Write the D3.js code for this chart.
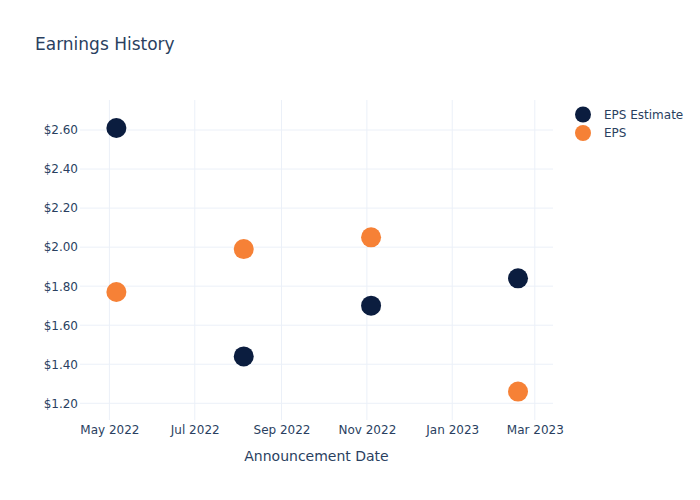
<!DOCTYPE html>
<html>
<head>
<meta charset="utf-8">
<script src="https://cdn.jsdelivr.net/npm/d3@7"></script>
<style>
  body { margin: 0; background: #fff; }
  svg { font-family: "DejaVu Sans", sans-serif; }
</style>
</head>
<body>
<svg id="chart" width="700" height="500"></svg>
<script>
const dates = ["2022-05-06", "2022-08-05", "2022-11-04", "2023-02-17"];
const epsEstimate = [2.61, 1.44, 1.70, 1.84];
const eps = [1.77, 1.99, 2.05, 1.26];
const yTicks = [1.2, 1.4, 1.6, 1.8, 2.0, 2.2, 2.4, 2.6];
const xTicks = ["2022-05-01", "2022-07-01", "2022-09-01", "2022-11-01", "2023-01-01", "2023-03-01"];
const seriesNames = ["EPS Estimate", "EPS"];
const seriesColors = ["#0b1d3f", "#f68136"];

const parse = d3.timeParse("%Y-%m-%d");
const svg = d3.select("#chart");
const W = 700, H = 500;
const m = { left: 80, right: 553, top: 100, bottom: 420 };
const textColor = "#2a3f5f";
const gridColor = "#ebf0f8";

const x = d3.scaleTime()
  .domain([parse("2022-04-10"), parse("2023-03-14")])
  .range([m.left, m.right]);
const y = d3.scaleLinear()
  .domain([1.1144, 2.7537])
  .range([m.bottom, m.top]);

svg.append("rect").attr("width", W).attr("height", H).attr("fill", "#fff");

// grid
const g = svg.append("g");
g.selectAll(".vg").data(xTicks).enter().append("line")
  .attr("x1", d => x(parse(d))).attr("x2", d => x(parse(d)))
  .attr("y1", m.top).attr("y2", m.bottom)
  .attr("stroke", gridColor).attr("stroke-width", 1);
g.selectAll(".hg").data(yTicks).enter().append("line")
  .attr("x1", m.left).attr("x2", m.right)
  .attr("y1", d => y(d)).attr("y2", d => y(d))
  .attr("stroke", gridColor).attr("stroke-width", 1);

// axes
const xAxis = d3.axisBottom(x)
  .tickValues(xTicks.map(parse))
  .tickFormat(d3.timeFormat("%b %Y"))
  .tickSize(0).tickPadding(5);
const xg = svg.append("g").attr("transform", `translate(0,${m.bottom})`).call(xAxis);
xg.select(".domain").remove();
xg.selectAll("text").attr("fill", textColor).style("font-size", "12px")
  .style("font-family", "DejaVu Sans, sans-serif");

const yAxis = d3.axisLeft(y)
  .tickValues(yTicks)
  .tickFormat(d => "$" + d3.format(".2f")(d))
  .tickSize(0).tickPadding(2);
const yg = svg.append("g").attr("transform", `translate(${m.left},0)`).call(yAxis);
yg.select(".domain").remove();
yg.selectAll("text").attr("fill", textColor).style("font-size", "12px")
  .style("font-family", "DejaVu Sans, sans-serif");

// points
const seriesData = [epsEstimate, eps];
seriesData.forEach((vals, i) => {
  svg.append("g").selectAll("circle").data(vals).enter().append("circle")
    .attr("cx", (d, j) => x(parse(dates[j])))
    .attr("cy", d => y(d))
    .attr("r", 10)
    .attr("fill", seriesColors[i]);
});

// title
svg.append("text").attr("x", 35).attr("y", 50)
  .attr("fill", textColor).style("font-size", "17px")
  .text("Earnings History");

// x axis title
svg.append("text").attr("x", (m.left + m.right) / 2).attr("y", 461)
  .attr("text-anchor", "middle").attr("fill", textColor).style("font-size", "14px")
  .text("Announcement Date");

// legend
const lg = svg.append("g");
seriesNames.forEach((name, i) => {
  const ly = 114.5 + i * 18.5;
  lg.append("circle").attr("cx", 583).attr("cy", ly).attr("r", 8).attr("fill", seriesColors[i]);
  lg.append("text").attr("x", 604).attr("y", ly).attr("dy", "0.35em")
    .attr("fill", textColor).style("font-size", "12px").text(name);
});
</script>
</body>
</html>
